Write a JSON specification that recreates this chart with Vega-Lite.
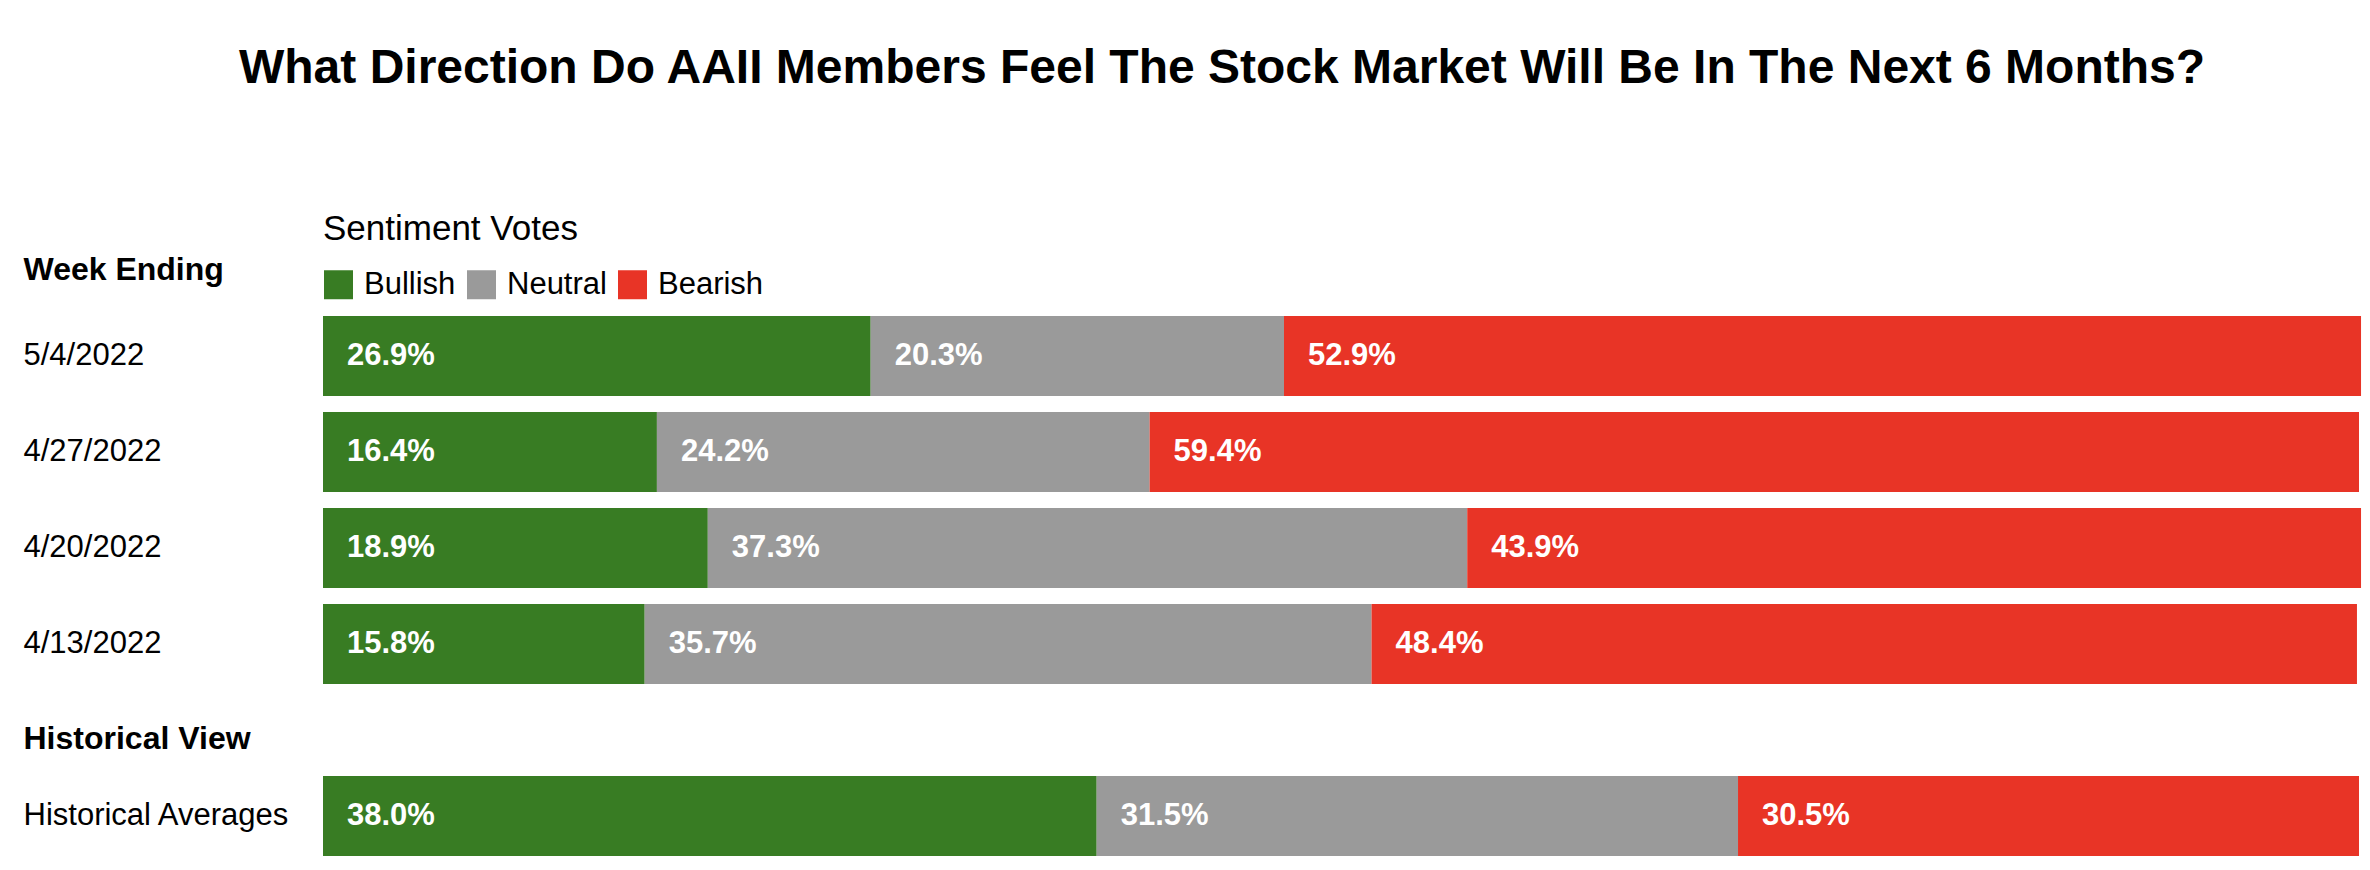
{
  "$schema": "https://vega.github.io/schema/vega-lite/v6.json",
  "background": "white",
  "padding": {"left": 23, "top": 45, "right": 5, "bottom": 5},
  "title": {
    "text": "What Direction Do AAII Members Feel The Stock Market Will Be In The Next 6 Months?",
    "fontSize": 48,
    "fontWeight": "bold",
    "color": "black",
    "anchor": "middle",
    "baseline": "alphabetic",
    "offset": 81,
    "dx": 30
  },
  "config": {
    "font": "Liberation Sans",
    "view": {"stroke": null},
    "axis": {"domain": false, "ticks": false, "tickSize": 0, "grid": false}
  },
  "datasets": {
    "weekly": [
      {"week": "5/4/2022", "sentiment": "Bullish", "pct": 0.269},
      {"week": "5/4/2022", "sentiment": "Neutral", "pct": 0.203},
      {"week": "5/4/2022", "sentiment": "Bearish", "pct": 0.529},
      {"week": "4/27/2022", "sentiment": "Bullish", "pct": 0.164},
      {"week": "4/27/2022", "sentiment": "Neutral", "pct": 0.242},
      {"week": "4/27/2022", "sentiment": "Bearish", "pct": 0.594},
      {"week": "4/20/2022", "sentiment": "Bullish", "pct": 0.189},
      {"week": "4/20/2022", "sentiment": "Neutral", "pct": 0.373},
      {"week": "4/20/2022", "sentiment": "Bearish", "pct": 0.439},
      {"week": "4/13/2022", "sentiment": "Bullish", "pct": 0.158},
      {"week": "4/13/2022", "sentiment": "Neutral", "pct": 0.357},
      {"week": "4/13/2022", "sentiment": "Bearish", "pct": 0.484}
    ],
    "historical": [
      {"week": "Historical Averages", "sentiment": "Bullish", "pct": 0.38},
      {"week": "Historical Averages", "sentiment": "Neutral", "pct": 0.315},
      {"week": "Historical Averages", "sentiment": "Bearish", "pct": 0.305}
    ]
  },
  "bounds": "flush",
  "spacing": 92,
  "resolve": {"legend": {"color": "independent"}},
  "vconcat": [
    {
      "data": {"name": "weekly"},
      "width": 2036,
      "height": 368,
      "transform": [{"stack": "pct", "groupby": ["week"], "as": ["p0", "p1"]}],
      "encoding": {
        "y": {
          "field": "week",
          "type": "nominal",
          "sort": null,
          "scale": {"paddingInner": 0.1667, "paddingOuter": 0},
          "axis": {
            "title": "Week Ending",
            "titleAngle": 0,
            "titleAlign": "left",
            "titleBaseline": "alphabetic",
            "titleX": -300,
            "titleY": -37,
            "titleFontSize": 32,
            "titleFontWeight": "bold",
            "titleColor": "black",
            "titleLimit": 600,
            "labelAlign": "left",
            "labelPadding": 300,
            "labelFontSize": 31,
            "labelColor": "black",
            "labelLimit": 400
          }
        }
      },
      "layer": [
        {
          "mark": {"type": "bar"},
          "encoding": {
            "x": {"field": "p0", "type": "quantitative", "scale": {"domain": [0, 1], "nice": false}, "axis": null},
            "x2": {"field": "p1"},
            "color": {
              "field": "sentiment",
              "type": "nominal",
              "scale": {"domain": ["Bullish", "Neutral", "Bearish"], "range": ["#387c23", "#9a9a9a", "#e83426"]},
              "legend": {
                "title": "Sentiment Votes",
                "orient": "none",
                "legendX": 0,
                "legendY": -104,
                "direction": "horizontal",
                "titleFontSize": 35,
                "titleFontWeight": "normal",
                "titleColor": "black",
                "titlePadding": 22,
                "titleLimit": 600,
                "labelFontSize": 31,
                "labelColor": "black",
                "labelOffset": 10,
                "labelLimit": 300,
                "columnPadding": 10,
                "symbolType": "square",
                "symbolSize": 841,
                "symbolStrokeWidth": 0,
                "symbolOpacity": 1
              }
            }
          }
        },
        {
          "mark": {"type": "text", "align": "left", "dx": 24, "baseline": "middle", "color": "white", "fontSize": 31, "fontWeight": "bold"},
          "encoding": {
            "x": {"field": "p0", "type": "quantitative"},
            "text": {"field": "pct", "type": "quantitative", "format": ".1%"}
          }
        }
      ]
    },
    {
      "data": {"name": "historical"},
      "width": 2036,
      "height": 80,
      "transform": [{"stack": "pct", "groupby": ["week"], "as": ["p0", "p1"]}],
      "encoding": {
        "y": {
          "field": "week",
          "type": "nominal",
          "sort": null,
          "scale": {"paddingInner": 0, "paddingOuter": 0},
          "axis": {
            "title": "Historical View",
            "titleAngle": 0,
            "titleAlign": "left",
            "titleBaseline": "alphabetic",
            "titleX": -300,
            "titleY": -28,
            "titleFontSize": 32,
            "titleFontWeight": "bold",
            "titleColor": "black",
            "titleLimit": 600,
            "labelAlign": "left",
            "labelPadding": 300,
            "labelFontSize": 31,
            "labelColor": "black",
            "labelLimit": 400
          }
        }
      },
      "layer": [
        {
          "mark": {"type": "bar"},
          "encoding": {
            "x": {"field": "p0", "type": "quantitative", "scale": {"domain": [0, 1], "nice": false}, "axis": null},
            "x2": {"field": "p1"},
            "color": {
              "field": "sentiment",
              "type": "nominal",
              "scale": {"domain": ["Bullish", "Neutral", "Bearish"], "range": ["#387c23", "#9a9a9a", "#e83426"]},
              "legend": null
            }
          }
        },
        {
          "mark": {"type": "text", "align": "left", "dx": 24, "baseline": "middle", "color": "white", "fontSize": 31, "fontWeight": "bold"},
          "encoding": {
            "x": {"field": "p0", "type": "quantitative"},
            "text": {"field": "pct", "type": "quantitative", "format": ".1%"}
          }
        }
      ]
    }
  ]
}
